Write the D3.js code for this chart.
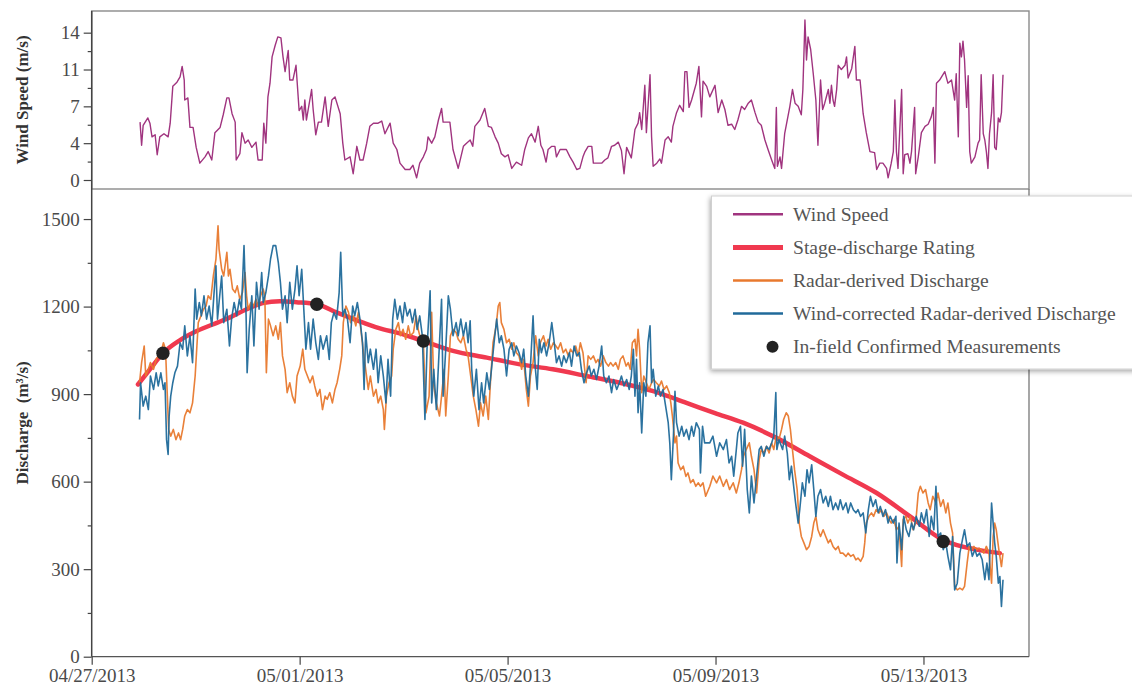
<!DOCTYPE html>
<html lang="en">
<head>
<meta charset="UTF-8">
<title>Wind Speed and Discharge</title>
<script src="https://d3js.org/d3.v7.min.js"></script>
<style>
  body { margin: 0; background: #fff; }
  svg { display: block; font-family: "Liberation Serif", "Times New Roman", serif; }
  .tick text { fill: #4a4a4a; font-size: 19px; }
  .tick line { stroke: #444; stroke-width: 1.2; }
  .axis-title { fill: #333; font-weight: bold; font-size: 17px; }
  .legend text { fill: #555; font-size: 19.6px; }
</style>
</head>
<body>
<svg id="chart" width="1132" height="686"></svg>
<script>
// each pair: [days after 04/27/2013 00:00, value]
const windSpeed = [
  [0.93,5.5],[0.96,3.3],[0.99,5.2],[1.08,5.9],[1.12,5.4],[1.16,4.1],[1.22,4.3],[1.26,2.4],[1.31,4.1],[1.39,4.4],
  [1.47,4.1],[1.51,5.4],[1.56,8.9],[1.64,9.3],[1.70,9.8],[1.74,10.8],[1.78,9.5],[1.79,7.6],[1.85,7.8],[1.89,5.0],
  [1.95,5.0],[2.01,3.1],[2.08,1.6],[2.18,2.2],[2.24,2.7],[2.31,1.9],[2.37,4.5],[2.47,5.0],[2.53,6.2],[2.60,7.8],
  [2.64,7.8],[2.70,6.3],[2.76,5.5],[2.78,1.9],[2.85,2.5],[2.89,4.5],[2.95,3.5],[3.01,3.8],[3.08,3.1],[3.16,3.6],
  [3.20,1.9],[3.28,1.9],[3.31,5.4],[3.35,3.5],[3.39,7.9],[3.43,9.2],[3.47,11.7],[3.53,12.8],[3.58,13.6],[3.64,13.5],
  [3.68,11.7],[3.72,10.3],[3.78,12.3],[3.81,9.5],[3.87,9.5],[3.93,10.9],[3.99,6.6],[4.04,7.0],[4.07,5.7],[4.10,7.6],
  [4.13,5.7],[4.23,8.6],[4.26,6.7],[4.31,4.3],[4.36,5.5],[4.42,5.5],[4.49,7.9],[4.55,5.1],[4.62,7.6],[4.68,7.9],
  [4.78,6.3],[4.83,3.5],[4.87,1.9],[4.97,2.2],[5.03,0.6],[5.10,3.2],[5.16,1.9],[5.22,1.9],[5.29,3.5],[5.35,5.1],
  [5.42,5.4],[5.51,5.4],[5.58,5.6],[5.64,4.4],[5.74,5.4],[5.80,3.5],[5.87,2.9],[5.93,1.6],[6.03,1.0],[6.12,1.0],
  [6.18,1.4],[6.25,0.2],[6.31,1.6],[6.38,2.2],[6.44,2.9],[6.47,4.1],[6.54,3.5],[6.60,4.1],[6.67,5.7],[6.73,6.8],
  [6.76,5.5],[6.89,5.5],[6.95,2.9],[7.05,1.1],[7.15,3.2],[7.21,3.5],[7.28,3.8],[7.33,3.2],[7.37,5.1],[7.47,5.7],
  [7.56,6.8],[7.63,5.1],[7.69,5.0],[7.76,4.1],[7.82,3.5],[7.88,2.5],[7.95,2.2],[8.01,2.4],[8.08,1.1],[8.17,1.7],
  [8.27,1.4],[8.33,2.9],[8.40,4.0],[8.46,4.4],[8.53,3.6],[8.59,5.1],[8.64,3.3],[8.68,2.9],[8.74,1.7],[8.78,2.9],
  [8.85,3.2],[8.91,3.2],[8.94,2.2],[9.01,2.9],[9.13,2.9],[9.20,2.2],[9.26,1.7],[9.33,1.0],[9.39,1.1],[9.45,2.2],
  [9.49,2.7],[9.55,3.2],[9.62,3.2],[9.65,1.6],[9.71,1.6],[9.81,1.6],[9.87,1.9],[9.93,2.1],[10.00,3.2],[10.06,3.3],
  [10.13,3.6],[10.19,2.8],[10.24,0.6],[10.29,3.1],[10.38,2.1],[10.45,4.8],[10.51,5.4],[10.54,6.4],[10.58,4.8],[10.64,9.0],
  [10.67,4.5],[10.74,10.0],[10.77,4.1],[10.80,1.3],[10.87,1.6],[10.93,2.0],[10.96,1.6],[11.03,3.8],[11.09,4.1],[11.15,3.6],
  [11.18,5.1],[11.25,6.4],[11.31,7.1],[11.38,6.5],[11.41,10.3],[11.45,10.3],[11.49,6.9],[11.54,7.6],[11.63,9.2],[11.68,10.8],
  [11.73,6.0],[11.76,9.4],[11.83,8.9],[11.89,7.9],[11.99,9.0],[12.05,6.4],[12.12,7.6],[12.18,6.7],[12.24,5.2],[12.31,5.3],
  [12.37,4.8],[12.43,5.7],[12.50,7.0],[12.56,6.7],[12.63,7.3],[12.69,7.6],[12.76,6.4],[12.82,5.5],[12.88,5.2],[12.95,3.8],
  [13.01,2.9],[13.08,1.9],[13.14,1.1],[13.17,6.9],[13.19,1.3],[13.24,2.2],[13.27,1.1],[13.33,4.4],[13.43,7.0],[13.48,8.6],
  [13.53,7.3],[13.59,7.0],[13.65,6.2],[13.68,8.6],[13.72,15.2],[13.75,11.4],[13.78,13.6],[13.83,12.4],[13.88,10.1],[13.93,7.6],
  [13.97,3.3],[14.02,9.5],[14.06,6.7],[14.10,7.3],[14.17,8.6],[14.20,7.3],[14.23,9.0],[14.26,7.6],[14.29,7.0],[14.33,8.6],
  [14.36,10.9],[14.42,10.5],[14.49,10.9],[14.52,11.7],[14.55,9.7],[14.62,10.6],[14.68,12.7],[14.71,9.5],[14.78,9.5],[14.84,6.3],
  [14.90,4.5],[14.97,2.7],[15.06,2.6],[15.10,1.0],[15.16,1.6],[15.22,1.6],[15.29,1.1],[15.32,0.2],[15.38,1.6],[15.42,2.7],
  [15.45,7.6],[15.48,2.7],[15.51,1.1],[15.58,8.6],[15.61,0.6],[15.64,2.4],[15.70,2.5],[15.74,1.6],[15.77,2.7],[15.83,6.9],
  [15.85,0.6],[15.90,2.2],[15.96,4.5],[16.03,5.1],[16.09,5.3],[16.15,6.0],[16.19,6.9],[16.22,1.6],[16.25,9.2],[16.31,9.5],
  [16.41,10.3],[16.47,9.2],[16.54,9.5],[16.60,7.6],[16.63,10.1],[16.67,4.1],[16.70,13.0],[16.73,11.7],[16.76,13.2],[16.79,11.4],
  [16.83,6.9],[16.86,9.9],[16.89,2.7],[16.92,1.6],[16.99,2.2],[17.05,3.5],[17.08,3.8],[17.11,10.0],[17.15,4.4],[17.18,3.8],
  [17.21,2.7],[17.24,1.1],[17.27,4.4],[17.31,6.4],[17.34,10.0],[17.37,3.1],[17.40,2.9],[17.44,5.9],[17.47,5.5],[17.50,6.4],
  [17.53,10.0]
];

const ratingCurve = [
  [0.89,933],[1.12,985],[1.37,1040],[1.70,1085],[2.02,1116],[2.43,1146],[2.66,1163],[2.97,1190],[3.29,1212],[3.62,1218],
  [3.94,1215],[4.33,1208],[4.71,1180],[5.22,1145],[5.61,1122],[5.87,1111],[6.18,1094],[6.38,1082],[6.95,1048],[7.60,1025],
  [8.24,1002],[8.87,985],[9.52,962],[10.16,939],[10.80,910],[11.44,870],[11.99,835],[12.53,802],[13.17,750],[13.81,687],
  [14.45,624],[15.10,561],[15.74,481],[16.38,400],[17.02,367],[17.47,355]
];

const radarDischarge = [
  [0.92,939],[0.96,1008],[1.01,1065],[1.04,962],[1.09,985],[1.13,1008],[1.19,985],[1.24,1019],[1.28,1031],[1.33,1042],
  [1.38,1076],[1.42,1054],[1.45,916],[1.48,779],[1.52,756],[1.57,779],[1.62,744],[1.67,767],[1.71,744],[1.75,779],
  [1.79,825],[1.84,847],[1.89,836],[1.94,870],[1.99,962],[2.02,1054],[2.05,1145],[2.10,1168],[2.15,1191],[2.20,1202],
  [2.24,1237],[2.29,1225],[2.34,1305],[2.39,1363],[2.43,1477],[2.45,1397],[2.50,1328],[2.54,1305],[2.60,1386],[2.63,1305],
  [2.66,1328],[2.71,1260],[2.76,1248],[2.80,1271],[2.85,1225],[2.90,1248],[2.95,1317],[2.98,1237],[3.01,1191],[3.06,1214],
  [3.11,1202],[3.16,1225],[3.20,1202],[3.25,1237],[3.30,1260],[3.33,1237],[3.36,973],[3.40,1157],[3.44,1134],[3.49,1100],
  [3.54,1134],[3.59,1088],[3.63,1145],[3.67,1031],[3.72,985],[3.76,905],[3.81,939],[3.86,893],[3.91,870],[3.95,962],
  [4.01,996],[4.06,1054],[4.10,985],[4.15,962],[4.20,939],[4.25,962],[4.29,928],[4.34,893],[4.39,916],[4.44,847],
  [4.49,893],[4.53,882],[4.58,905],[4.63,870],[4.68,916],[4.72,939],[4.77,985],[4.81,1031],[4.84,1145],[4.89,1202],
  [4.94,1180],[4.98,1145],[5.03,1168],[5.08,1134],[5.13,1180],[5.17,1134],[5.22,1054],[5.27,985],[5.32,916],[5.36,962],
  [5.42,893],[5.47,916],[5.51,870],[5.56,893],[5.61,847],[5.63,779],[5.67,893],[5.72,939],[5.77,962],[5.80,1054],
  [5.85,1122],[5.90,1145],[5.94,1100],[5.99,1122],[6.04,1088],[6.09,1134],[6.13,1100],[6.19,1111],[6.24,1168],[6.28,1122],
  [6.33,1088],[6.38,1076],[6.43,836],[6.49,893],[6.54,1180],[6.58,928],[6.63,870],[6.69,825],[6.73,893],[6.78,985],
  [6.81,825],[6.86,962],[6.90,1100],[6.95,1122],[7.01,1111],[7.05,1088],[7.10,1076],[7.15,1100],[7.20,1054],[7.24,1031],
  [7.29,962],[7.34,893],[7.39,847],[7.44,790],[7.48,870],[7.53,825],[7.58,893],[7.63,813],[7.67,939],[7.72,1076],
  [7.78,1134],[7.82,1202],[7.85,1214],[7.88,1145],[7.93,1122],[7.98,1076],[8.03,1088],[8.08,1054],[8.12,1076],[8.17,1042],
  [8.22,1031],[8.27,985],[8.31,1019],[8.36,916],[8.40,859],[8.44,962],[8.49,1008],[8.54,1100],[8.59,1031],[8.63,1076],
  [8.69,1100],[8.74,1065],[8.78,1088],[8.83,1054],[8.88,1076],[8.93,1065],[8.97,1054],[9.02,1076],[9.07,1042],[9.12,1054],
  [9.17,1031],[9.21,1054],[9.26,1042],[9.31,1065],[9.36,1031],[9.40,1076],[9.45,1042],[9.51,939],[9.55,1031],[9.60,1019],
  [9.65,1031],[9.70,1008],[9.74,1019],[9.79,996],[9.84,1031],[9.89,1008],[9.94,996],[9.98,1008],[10.03,996],[10.08,1008],
  [10.13,985],[10.17,1019],[10.22,1031],[10.28,996],[10.32,1008],[10.36,985],[10.40,1076],[10.45,1088],[10.48,1031],[10.51,1122],
  [10.54,1054],[10.58,905],[10.62,962],[10.67,939],[10.72,916],[10.77,939],[10.81,950],[10.86,939],[10.92,928],[10.96,945],
  [11.01,916],[11.06,928],[11.11,905],[11.14,870],[11.17,825],[11.22,733],[11.25,756],[11.28,664],[11.33,641],[11.38,653],
  [11.43,618],[11.47,630],[11.52,596],[11.57,607],[11.62,584],[11.67,596],[11.71,584],[11.76,596],[11.81,550],[11.89,584],
  [11.95,619],[12.02,596],[12.08,619],[12.15,584],[12.21,607],[12.27,573],[12.34,596],[12.40,561],[12.45,596],[12.50,641],
  [12.54,687],[12.59,710],[12.65,733],[12.69,687],[12.74,641],[12.79,561],[12.84,676],[12.88,710],[12.93,698],[12.98,721],
  [13.03,698],[13.08,733],[13.12,710],[13.17,756],[13.22,744],[13.27,779],[13.31,813],[13.36,836],[13.40,825],[13.44,779],
  [13.48,710],[13.52,641],[13.57,573],[13.61,458],[13.65,412],[13.70,390],[13.75,367],[13.80,378],[13.85,412],[13.89,458],
  [13.93,481],[13.97,435],[14.02,412],[14.07,435],[14.12,412],[14.17,390],[14.21,401],[14.26,378],[14.31,367],[14.36,378],
  [14.40,355],[14.45,355],[14.51,344],[14.55,355],[14.60,344],[14.65,350],[14.70,332],[14.74,338],[14.79,327],[14.84,344],
  [14.87,390],[14.90,458],[14.95,481],[15.00,493],[15.04,481],[15.09,504],[15.15,493],[15.19,504],[15.24,481],[15.29,493],
  [15.34,470],[15.38,458],[15.43,470],[15.48,435],[15.53,447],[15.58,309],[15.61,470],[15.66,481],[15.70,458],[15.75,481],
  [15.80,435],[15.85,458],[15.90,561],[15.94,584],[15.99,561],[16.04,573],[16.09,527],[16.13,504],[16.18,550],[16.24,527],
  [16.28,561],[16.33,515],[16.38,538],[16.43,493],[16.47,527],[16.52,458],[16.56,424],[16.60,241],[16.65,229],[16.70,235],
  [16.75,229],[16.79,241],[16.84,321],[16.88,378],[16.92,367],[16.97,378],[17.02,367],[17.07,372],[17.11,367],[17.16,355],
  [17.21,378],[17.26,355],[17.31,252],[17.34,412],[17.37,458],[17.40,435],[17.45,367],[17.50,309],[17.53,355]
];

const correctedDischarge = [
  [0.92,813],[0.94,939],[0.99,859],[1.04,893],[1.09,847],[1.13,962],[1.19,916],[1.24,973],[1.28,928],[1.33,973],
  [1.38,916],[1.41,939],[1.44,744],[1.47,693],[1.49,825],[1.52,893],[1.56,939],[1.60,973],[1.65,996],[1.70,1076],
  [1.75,1054],[1.79,1134],[1.84,1031],[1.89,1100],[1.94,1008],[1.99,1260],[2.02,1157],[2.07,1214],[2.11,1168],[2.16,1237],
  [2.21,1157],[2.26,1202],[2.31,1134],[2.35,1237],[2.39,1340],[2.42,1157],[2.45,1214],[2.50,1305],[2.54,1145],[2.60,1191],
  [2.65,1065],[2.69,1157],[2.74,1214],[2.79,1168],[2.84,1225],[2.88,1191],[2.93,1409],[2.97,1168],[2.99,973],[3.03,1122],
  [3.08,1237],[3.12,1065],[3.17,1283],[3.22,1191],[3.27,1317],[3.30,1214],[3.35,1248],[3.40,1305],[3.44,1363],[3.49,1409],
  [3.54,1409],[3.59,1351],[3.63,1283],[3.67,1191],[3.72,1237],[3.76,1145],[3.81,1283],[3.86,1191],[3.91,1260],[3.95,1340],
  [3.99,1237],[4.04,1328],[4.08,1191],[4.12,1054],[4.17,1145],[4.21,1054],[4.26,1157],[4.31,1076],[4.36,1019],[4.40,1100],
  [4.45,1054],[4.52,1100],[4.57,1019],[4.61,1145],[4.66,1180],[4.71,1157],[4.76,1248],[4.79,1386],[4.83,1168],[4.87,1191],
  [4.92,1157],[4.97,1076],[5.02,1202],[5.06,1168],[5.11,1214],[5.16,1157],[5.21,1076],[5.24,916],[5.27,1111],[5.32,1008],
  [5.36,1054],[5.42,985],[5.47,1054],[5.51,939],[5.56,1031],[5.61,962],[5.66,870],[5.70,1019],[5.75,893],[5.79,1157],
  [5.83,1225],[5.88,1157],[5.93,1202],[5.98,1145],[6.02,1214],[6.07,1168],[6.12,1191],[6.17,1145],[6.22,1191],[6.26,1122],
  [6.31,1168],[6.36,1100],[6.41,813],[6.45,1054],[6.51,1254],[6.54,870],[6.58,985],[6.63,847],[6.69,1076],[6.73,1225],
  [6.76,893],[6.81,1054],[6.86,1237],[6.90,1191],[6.95,1100],[7.01,1145],[7.05,1100],[7.10,1157],[7.15,1100],[7.20,1145],
  [7.24,1076],[7.28,1151],[7.31,985],[7.35,893],[7.40,985],[7.45,847],[7.50,939],[7.54,870],[7.60,973],[7.65,916],
  [7.69,985],[7.74,1076],[7.79,1157],[7.84,1076],[7.88,1100],[7.93,1054],[7.98,962],[8.03,1054],[8.08,1076],[8.12,1031],
  [8.17,1065],[8.22,1042],[8.27,1008],[8.31,1054],[8.35,962],[8.40,893],[8.44,996],[8.49,1168],[8.53,996],[8.57,916],
  [8.61,1088],[8.65,1042],[8.70,1076],[8.75,1031],[8.80,1076],[8.85,1145],[8.89,1088],[8.94,1008],[8.99,1031],[9.04,996],
  [9.08,1031],[9.13,1008],[9.19,1042],[9.23,996],[9.28,1065],[9.33,1031],[9.38,1042],[9.42,985],[9.47,939],[9.52,973],
  [9.57,996],[9.61,962],[9.66,985],[9.71,950],[9.76,996],[9.81,1065],[9.85,962],[9.90,939],[9.95,962],[10.00,905],
  [10.04,950],[10.10,916],[10.15,939],[10.19,962],[10.24,928],[10.29,950],[10.34,916],[10.38,962],[10.42,1054],[10.45,893],
  [10.48,1019],[10.51,836],[10.54,939],[10.58,767],[10.62,939],[10.66,893],[10.70,1076],[10.74,1134],[10.77,939],[10.80,985],
  [10.85,893],[10.90,928],[10.94,893],[10.99,916],[11.04,859],[11.09,802],[11.12,733],[11.15,607],[11.19,756],[11.22,910],
  [11.25,802],[11.30,756],[11.35,790],[11.39,756],[11.44,779],[11.49,744],[11.54,790],[11.58,756],[11.63,802],[11.69,779],
  [11.71,630],[11.75,790],[11.79,733],[11.89,733],[11.95,756],[12.02,687],[12.08,733],[12.15,710],[12.21,744],[12.26,664],
  [12.31,687],[12.35,619],[12.40,710],[12.43,767],[12.48,790],[12.52,653],[12.56,779],[12.61,573],[12.65,493],[12.69,619],
  [12.74,527],[12.79,619],[12.84,710],[12.88,721],[12.93,687],[12.98,721],[13.03,710],[13.08,733],[13.12,756],[13.16,905],
  [13.18,710],[13.22,744],[13.29,710],[13.33,756],[13.38,698],[13.42,607],[13.46,653],[13.51,573],[13.54,527],[13.59,458],
  [13.62,504],[13.67,596],[13.72,550],[13.76,641],[13.80,596],[13.85,658],[13.89,573],[13.93,481],[13.97,550],[14.02,573],
  [14.07,527],[14.12,550],[14.17,515],[14.21,550],[14.26,504],[14.31,527],[14.36,504],[14.40,538],[14.45,504],[14.51,527],
  [14.55,493],[14.60,527],[14.65,504],[14.70,493],[14.74,504],[14.79,481],[14.84,493],[14.89,424],[14.94,504],[14.98,550],
  [15.03,515],[15.08,538],[15.13,493],[15.17,515],[15.22,481],[15.27,504],[15.32,458],[15.36,481],[15.42,458],[15.47,481],
  [15.49,321],[15.53,458],[15.58,367],[15.62,481],[15.67,435],[15.72,412],[15.77,458],[15.81,435],[15.86,481],[15.92,447],
  [15.96,493],[16.01,458],[16.06,504],[16.11,412],[16.15,481],[16.20,435],[16.24,584],[16.28,412],[16.33,424],[16.38,367],
  [16.43,390],[16.47,344],[16.52,298],[16.56,412],[16.60,229],[16.65,252],[16.70,355],[16.75,401],[16.79,435],[16.84,378],
  [16.89,390],[16.94,344],[16.99,367],[17.03,344],[17.08,355],[17.13,332],[17.18,264],[17.22,321],[17.26,264],[17.31,527],
  [17.34,458],[17.37,390],[17.40,344],[17.44,252],[17.47,275],[17.50,172],[17.53,264]
];

const fieldMeasurements = [[1.37,1040],[4.33,1208],[6.38,1082],[16.38,395]];

const windTicks = [0, 3.5, 7, 10.5, 14];
const windTickLabels = ["0", "4", "7", "11", "14"];
const windMinorTicks = [1.75, 5.25, 8.75, 12.25];
const dischargeTicks = [0, 300, 600, 900, 1200, 1500];
const dischargeMinorTicks = [150, 450, 750, 1050, 1350];
const dateTicks = ["2013-04-27", "2013-05-01", "2013-05-05", "2013-05-09", "2013-05-13"];

const legendItems = [
  { label: "Wind Speed", color: "#a0347f", width: 2.5, type: "line" },
  { label: "Stage-discharge Rating", color: "#f0394f", width: 5, type: "line" },
  { label: "Radar-derived Discharge", color: "#e8792e", width: 2.5, type: "line" },
  { label: "Wind-corrected Radar-derived Discharge", color: "#206a9a", width: 2.5, type: "line" },
  { label: "In-field Confirmed Measurements", color: "#222", type: "dot" }
];

const svg = d3.select("#chart");
const start = new Date(2013, 3, 27);
const toDate = d => new Date(start.getTime() + d * 864e5);
const parseDay = d3.timeParse("%Y-%m-%d");

const left = 91.7, right = 1029;
const x = d3.scaleTime().domain([start, toDate(18.03)]).range([left, right]);

// top panel
const topY0 = 11, topY1 = 189;
const yWind = d3.scaleLinear().domain([-0.855, 16.06]).range([topY1, topY0]);

// bottom panel
const botY0 = 189, botY1 = 656.7;
const yQ = d3.scaleLinear().domain([0, 1603]).range([botY1, botY0]);

// frames
svg.append("rect")
  .attr("x", left).attr("y", topY0)
  .attr("width", right - left).attr("height", topY1 - topY0)
  .attr("fill", "none").attr("stroke", "#8a8a8a").attr("stroke-width", 1.4);
svg.append("line")
  .attr("x1", right).attr("x2", right).attr("y1", topY1).attr("y2", botY1)
  .attr("stroke", "#777").attr("stroke-width", 1.3);
svg.append("line")
  .attr("x1", left).attr("x2", right).attr("y1", botY1).attr("y2", botY1)
  .attr("stroke", "#555").attr("stroke-width", 1.3);
svg.append("line")
  .attr("x1", left).attr("x2", left).attr("y1", topY0).attr("y2", botY1)
  .attr("stroke", "#444").attr("stroke-width", 1.5);

// axes
const gW = svg.append("g").attr("transform", `translate(${left},0)`)
  .call(d3.axisLeft(yWind).tickValues(windTicks).tickFormat((d, i) => windTickLabels[i]).tickSize(8).tickPadding(4));
const gWm = svg.append("g").attr("transform", `translate(${left},0)`)
  .call(d3.axisLeft(yWind).tickValues(windMinorTicks).tickFormat("").tickSize(4));
const gQ = svg.append("g").attr("transform", `translate(${left},0)`)
  .call(d3.axisLeft(yQ).tickValues(dischargeTicks).tickFormat(d3.format("d")).tickSize(8).tickPadding(4));
const gQm = svg.append("g").attr("transform", `translate(${left},0)`)
  .call(d3.axisLeft(yQ).tickValues(dischargeMinorTicks).tickFormat("").tickSize(4));
const gX = svg.append("g").attr("transform", `translate(0,${botY1})`)
  .call(d3.axisBottom(x).tickValues(dateTicks.map(parseDay)).tickFormat(d3.timeFormat("%m/%d/%Y")).tickSize(8).tickPadding(4));
[gW, gWm, gQ, gQm, gX].forEach(g => {
  g.attr("font-family", null).attr("font-size", null);
  g.select(".domain").remove();
});

// axis titles
svg.append("text").attr("class", "axis-title")
  .attr("transform", `translate(22,${(topY0 + topY1) / 2}) rotate(-90)`)
  .attr("text-anchor", "middle").attr("dominant-baseline", "central")
  .text("Wind Speed (m/s)");
svg.append("text").attr("class", "axis-title")
  .attr("transform", `translate(22,${(botY0 + botY1) / 2}) rotate(-90)`)
  .attr("text-anchor", "middle").attr("dominant-baseline", "central")
  .text("Discharge\u00a0\u00a0(m³/s)");

// series
const windLine = d3.line().x(d => x(toDate(d[0]))).y(d => yWind(d[1]));
const qLine = d3.line().x(d => x(toDate(d[0]))).y(d => yQ(d[1]));

svg.append("path").datum(windSpeed)
  .attr("d", windLine).attr("fill", "none")
  .attr("stroke", legendItems[0].color).attr("stroke-width", 1.4).attr("stroke-linejoin", "round");

svg.append("path").datum(ratingCurve)
  .attr("d", qLine.curve(d3.curveMonotoneX)).attr("fill", "none")
  .attr("stroke", legendItems[1].color).attr("stroke-width", 4.5).attr("stroke-linecap", "round");
qLine.curve(d3.curveLinear);

svg.append("path").datum(radarDischarge)
  .attr("d", qLine).attr("fill", "none")
  .attr("stroke", legendItems[2].color).attr("stroke-width", 1.6).attr("stroke-linejoin", "round").attr("opacity", 0.95);

svg.append("path").datum(correctedDischarge)
  .attr("d", qLine).attr("fill", "none")
  .attr("stroke", legendItems[3].color).attr("stroke-width", 1.6).attr("stroke-linejoin", "round").attr("opacity", 0.95);

svg.selectAll(".meas").data(fieldMeasurements).join("circle")
  .attr("class", "meas")
  .attr("cx", d => x(toDate(d[0]))).attr("cy", d => yQ(d[1]))
  .attr("r", 6.7).attr("fill", "#222");

// legend
const defs = svg.append("defs");
const f = defs.append("filter").attr("id", "shadow").attr("x", "-10%").attr("y", "-10%").attr("width", "130%").attr("height", "130%");
f.append("feDropShadow").attr("dx", -1).attr("dy", 2).attr("stdDeviation", 2.5).attr("flood-color", "#000").attr("flood-opacity", 0.35);

const legend = svg.append("g").attr("class", "legend");
legend.append("rect")
  .attr("x", 711.5).attr("y", 196).attr("width", 440).attr("height", 173)
  .attr("fill", "#fff").attr("stroke", "#d0d0d0").attr("stroke-width", 1)
  .attr("filter", "url(#shadow)");
const rows = legend.selectAll(".row").data(legendItems).join("g")
  .attr("class", "row")
  .attr("transform", (d, i) => `translate(0,${214.3 + i * 33.1})`);
rows.filter(d => d.type === "line").append("line")
  .attr("x1", 733).attr("x2", 783).attr("y1", 0).attr("y2", 0)
  .attr("stroke", d => d.color).attr("stroke-width", d => d.width);
rows.filter(d => d.type === "dot").append("circle")
  .attr("cx", 772.5).attr("cy", 0).attr("r", 6).attr("fill", d => d.color);
rows.append("text")
  .attr("x", 793).attr("y", 0).attr("dominant-baseline", "central")
  .text(d => d.label);
</script>
</body>
</html>
